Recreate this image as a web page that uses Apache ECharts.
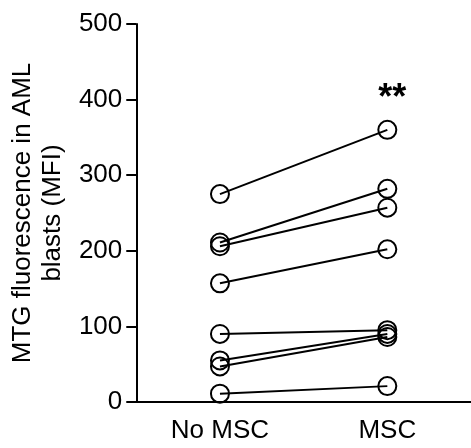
<!DOCTYPE html>
<html>
<head>
<meta charset="utf-8">
<script src="https://cdn.jsdelivr.net/npm/echarts@6/dist/echarts.min.js"></script>
<style>
html,body{margin:0;padding:0;background:#fff;}
#chart{width:471px;height:448px;}
</style>
</head>
<body>
<div id="chart"></div>
<script>
const categories = ['No MSC', 'MSC'];
const noMsc = [275, 211, 206, 157, 90, 55, 47, 11];
const msc = [360, 282, 257, 202, 95, 90, 86, 21];
const yTicks = [0, 100, 200, 300, 400, 500];
const yAxisTitle = 'MTG fluorescence in AML\nblasts (MFI)';
const significance = '**';

const FONT = '"Liberation Sans", Arial, Helvetica, sans-serif';
const topIdx = msc.indexOf(Math.max.apply(null, msc));

const series = noMsc.map(function (v, i) {
  const second = i === topIdx ? {
    value: msc[i],
    label: {
      show: true, position: 'top', distance: 6,
      formatter: significance, fontSize: 36, fontWeight: 'bold', fontFamily: FONT, color: '#000',
      offset: [5, 3]
    }
  } : msc[i];
  return {
    type: 'line',
    data: [v, second],
    symbol: 'circle',
    symbolSize: 18,
    silent: true,
    itemStyle: { color: 'rgba(0,0,0,0)', borderColor: '#000', borderWidth: 2 },
    lineStyle: { color: '#000', width: 2 },
    emphasis: { disabled: true },
    z: 2
  };
});

const chart = echarts.init(document.getElementById('chart'), null, { renderer: 'canvas' });
chart.setOption({
  animation: false,
  backgroundColor: '#fff',
  grid: { left: 134, right: -2, top: 24, bottom: 46, containLabel: false },
  xAxis: {
    type: 'category',
    data: categories,
    boundaryGap: true,
    axisLine: { lineStyle: { color: '#000', width: 2 } },
    axisTick: { alignWithLabel: true, length: 9, lineStyle: { color: '#000', width: 2 } },
    axisLabel: { color: '#000', fontSize: 26, fontFamily: FONT, margin: 16 },
    splitLine: { show: false }
  },
  yAxis: {
    type: 'value',
    min: yTicks[0],
    max: yTicks[yTicks.length - 1],
    interval: 100,
    name: yAxisTitle,
    nameLocation: 'middle',
    nameGap: 66,
    nameTextStyle: { color: '#000', fontSize: 26, fontFamily: FONT, lineHeight: 30 },
    axisLine: { show: true, lineStyle: { color: '#000', width: 2 } },
    axisTick: { show: true, length: 10, lineStyle: { color: '#000', width: 2 } },
    axisLabel: { color: '#000', fontSize: 26, fontFamily: FONT, margin: 14 },
    splitLine: { show: false }
  },
  series: series
});
</script>
</body>
</html>
